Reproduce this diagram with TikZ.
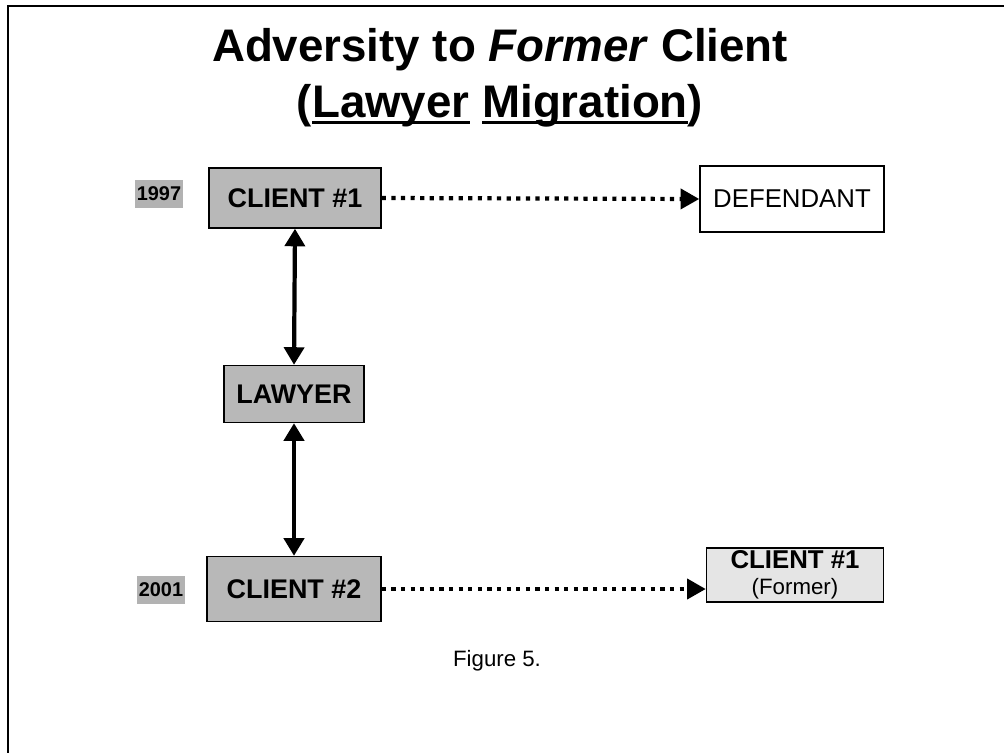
\documentclass[tikz,border=0pt]{standalone}
\usepackage{fontspec}
\setmainfont{Liberation Sans}
\usepackage{tikz}
\usetikzlibrary{arrows.meta}

\newcommand{\thickul}[1]{\setbox0\hbox{#1}\rlap{\rule[-0.14em]{\wd0}{0.07em}}\box0\relax}

\tikzset{
  shadebox/.style={draw,line width=1.2pt,fill=black!28,minimum height=60*0.03cm,font=\fontsize{23}{25}\selectfont\bfseries},
  lightbox/.style={draw,line width=1.2pt,fill=black!10,align=center,font=\fontsize{22}{24}\selectfont},
  plainbox/.style={draw,line width=1.2pt,fill=white,font=\fontsize{22}{24}\selectfont},
  yearbox/.style={fill=black!30,inner sep=0pt,minimum width=48*0.03cm,minimum height=28*0.03cm,font=\fontsize{17}{19}\selectfont\bfseries},
  linkarrow/.style={line width=3.6pt,{Triangle[width=17pt,length=15pt]}-{Triangle[width=17pt,length=15pt]}},
  dotarrow/.style={line width=3.6pt,dash pattern=on 3.6pt off 4.6pt,-{Triangle[width=17pt,length=16pt]}}
}

\begin{document}
\begin{tikzpicture}[x=0.03cm,y=-0.03cm]
    \useasboundingbox (0,0) rectangle (1004,753);
    \draw[line width=1.6pt] (8,753) -- (8,6) -- (1004,6);
    % title
    \node (title1) at (500,50) {\fontsize{39}{42}\selectfont\bfseries Adversity to \textit{Former} Client};
    \node (title2) at (500,106) {\fontsize{39}{42}\selectfont\bfseries (\thickul{Lawyer} \thickul{Migration})};
    % years
    \node[yearbox] (y1997) at (159,194) {1997};
    \node[yearbox] (y2001) at (161,590) {2001};
    % boxes
    \node[shadebox,minimum width=172*0.03cm] (c1) at (295,198) {CLIENT \#1};
    \node[plainbox,minimum width=184*0.03cm,minimum height=66*0.03cm] (def) at (792,199) {DEFENDANT};
    \node[shadebox,minimum width=140*0.03cm,minimum height=57*0.03cm] (lawyer) at (294,394) {LAWYER};
    \node[shadebox,minimum width=174*0.03cm,minimum height=65*0.03cm] (c2) at (294,589) {CLIENT \#2};
    \node[lightbox,minimum width=177*0.03cm,minimum height=54*0.03cm,inner sep=1pt] (former) at (795,575) {\textbf{CLIENT \#1}\\[-2pt]{\fontsize{19}{21}\selectfont (Former)}};
    % connectors
    \draw[linkarrow] (c1.south) -- (lawyer.north);
    \draw[linkarrow] (lawyer.south) -- (c2.north);
    \draw[dotarrow] (c1.east) -- (def.west);
    \draw[dotarrow] (c2.east) -- (former.west |- c2.east);
    \node (caption) at (497,661) {\fontsize{19}{21}\selectfont Figure 5.};
\end{tikzpicture}
\end{document}
